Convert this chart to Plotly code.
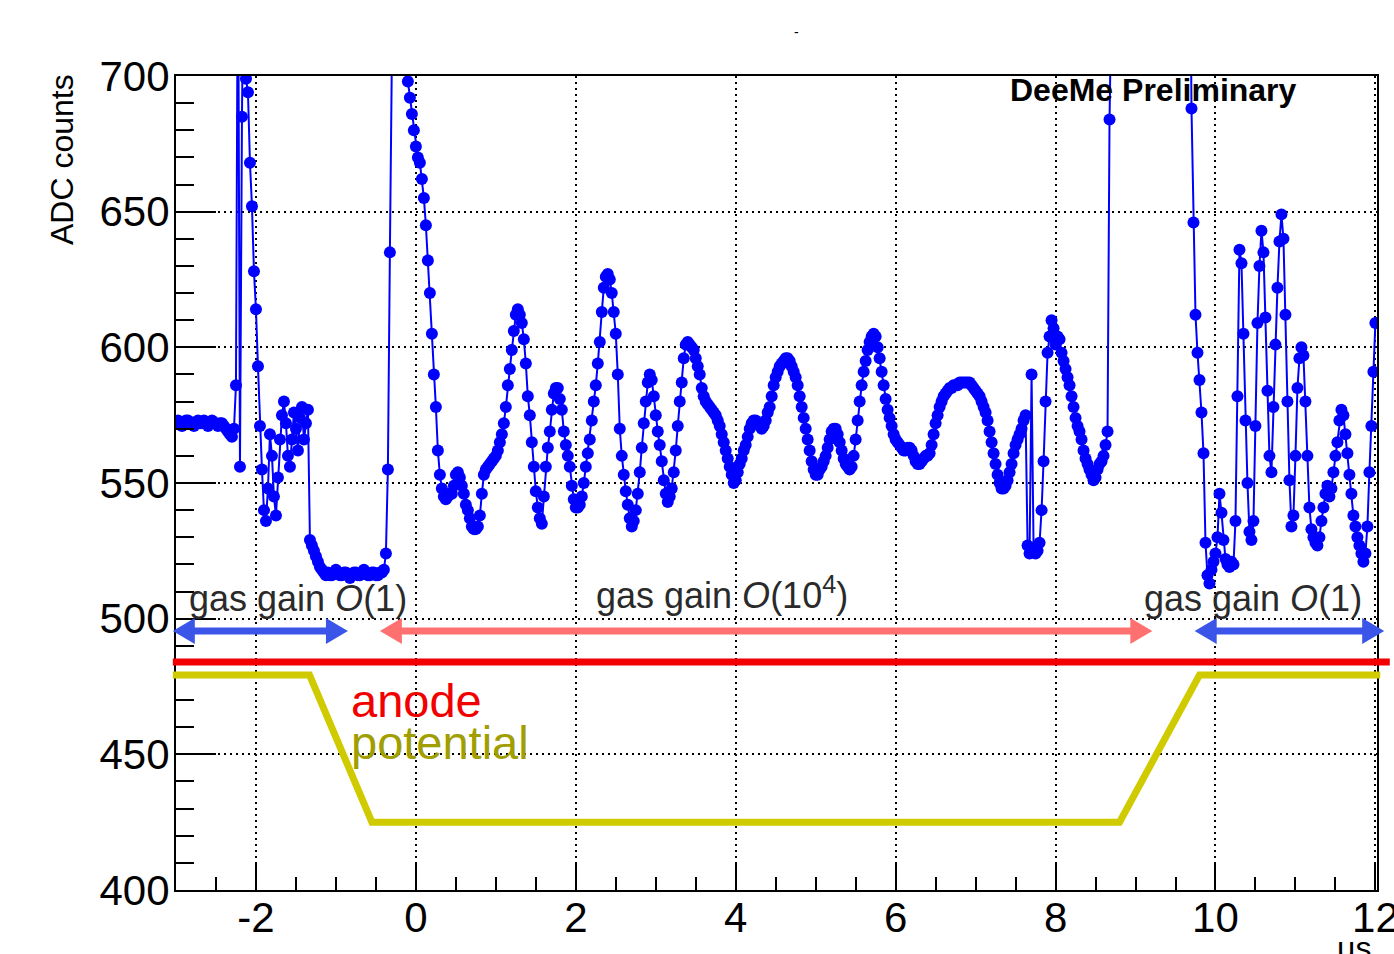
import numpy as np
import plotly.graph_objects as go

# ---------------- data ----------------
T_START = -3.0      # first sample time, us
T_STEP = 0.025      # sample spacing, us

adc_counts = [
    572, 573, 572, 571, 572, 573, 573, 572, 572, 571,
    572, 573, 572, 572, 573, 572, 571, 572, 573, 572,
    572, 571, 572, 572, 571, 570, 569, 568, 567, 570,
    586, 760, 556, 685, 760, 699, 694, 668, 652, 628,
    614, 593, 571, 555, 540, 536, 548, 568, 560, 545,
    538, 552, 566, 575, 580, 572, 560, 556, 566, 576,
    570, 562, 574, 578, 566, 572, 577, 529, 527, 525,
    523, 521, 519, 518, 517, 516, 517, 516, 516, 517,
    518, 517, 516, 516, 517, 517, 516, 515, 516, 517,
    517, 516, 516, 517, 518, 517, 516, 516, 517, 517,
    516, 516, 517, 517, 518, 524, 555, 635, 780, 780,
    780, 780, 780, 780, 780, 780, 698, 692, 686, 680,
    674, 670, 668, 662, 655, 645, 632, 620, 605, 590,
    578, 562, 553, 548, 545, 544, 545, 546, 546, 549,
    553, 554, 552, 549, 546, 542, 540, 537, 534, 533,
    533, 534, 538, 546, 553, 555, 556, 557, 558, 559,
    560, 562, 565, 568, 572, 578, 586, 592, 599, 606,
    612, 614, 612, 609, 603, 594, 582, 575, 565, 556,
    547, 541, 537, 535, 545, 556, 563, 569, 577, 583,
    585, 585, 581, 577, 569, 564, 560, 556, 549, 544,
    541, 541, 542, 545, 550, 556, 561, 566, 573, 580,
    586, 594, 602, 613, 622, 626, 627, 625, 620, 613,
    605, 590, 570, 560, 553, 547, 542, 537, 534, 536,
    540, 546, 554, 563, 572, 580, 587, 590, 588, 582,
    575, 569, 564, 558, 551, 546, 543, 545, 548, 554,
    562, 571, 580, 587, 596, 601, 602, 601, 600, 599,
    596, 593, 590, 585, 582, 580, 579, 578, 577, 576,
    575, 573, 571, 568, 565, 562, 559, 556, 553, 550,
    551, 554, 557, 559, 562, 564, 567, 570, 572, 573,
    573, 572, 571, 570, 571, 573, 576, 578, 582, 586,
    589, 591, 593, 594, 595, 596, 596, 595, 593, 591,
    589, 586, 582, 578, 574, 570, 566, 562, 558, 555,
    553, 553, 555, 556, 558, 560, 563, 566, 569, 570,
    570, 568, 565, 562, 559, 557, 556, 555, 556, 560,
    566, 573, 580, 586, 591, 595, 599, 602, 604, 605,
    604, 600, 596, 591, 586, 581, 577, 574, 571, 568,
    566, 565, 564, 563, 562, 562, 563, 563, 562, 560,
    558, 557, 557, 558, 559, 560, 560, 561, 564, 568,
    572, 575, 578, 580, 582, 583, 584, 585, 585, 586,
    586, 586, 587, 587, 587, 587, 587, 587, 586, 585,
    584, 583, 582, 580, 578, 576, 573, 569, 565, 561,
    557, 553, 550, 548, 548, 549, 551, 554, 557, 561,
    564, 566, 568, 570, 573, 575, 527, 524, 590, 526,
    524, 525, 528, 540, 558, 580, 598, 604, 610, 607,
    601, 604, 603, 598, 595, 592, 589, 586, 582, 578,
    574, 571, 569, 566, 562, 559, 557, 555, 553, 551,
    552, 555, 557, 558, 560, 564, 569, 684, 780, 780,
    780, 780, 780, 780, 780, 780, 780, 780, 780, 780,
    780, 780, 780, 780, 780, 780, 780, 780, 780, 780,
    780, 780, 780, 780, 780, 780, 780, 780, 780, 780,
    780, 780, 780, 780, 780, 780, 780, 780, 688, 646,
    612, 598, 588, 576, 561, 528, 516, 513, 518, 521,
    524, 530, 546, 539, 529, 522, 520, 519, 521, 520,
    536, 582, 636, 631, 605, 573, 550, 532, 529, 536,
    571, 609, 630, 643, 635, 611, 584, 560, 554, 578,
    601, 622, 639, 649, 640, 612, 580, 551, 534, 538,
    560, 585, 596, 600, 597, 580, 560, 541, 533, 530,
    528, 527, 530, 536, 541, 546, 549, 545, 548, 554,
    560, 565, 573, 577, 575, 568, 561, 553, 546, 538,
    534, 530, 527, 524, 521, 524, 534, 554, 571, 591,
    609,
]
assert len(adc_counts) == 601, len(adc_counts)
time_us = T_START + T_STEP * np.arange(len(adc_counts))

X_RANGE = [-3.0, 12.02]
Y_RANGE = [400, 700]
x_tick_vals = [-2, 0, 2, 4, 6, 8, 10, 12]
x_tick_text = ["-2", "0", "2", "4", "6", "8", "10", "12"]
y_tick_vals = [400, 450, 500, 550, 600, 650, 700]
y_tick_text = ["400", "450", "500", "550", "600", "650", "700"]

# hand-drawn overlay (slide annotations), in axis units
anode_t = [-3.04, 12.18]
anode_v = 484.0
potential_t = [-3.04, -1.33, -0.55, 8.80, 9.80, 12.06]
potential_v = [479.2, 479.2, 425.0, 425.0, 479.2, 479.2]
arrow_v = 495.5
arrows = [  # (left tip, right tip, colour)
    (-3.04, -0.85, "#3A55E8"),
    (-0.45, 9.21, "#FF7070"),
    (9.74, 12.11, "#3A55E8"),
]
gain_labels = [  # (centre time, centre value, text)
    (-1.48, 507.5, "gas gain <i>O</i>(1)"),
    (3.83, 509.5, "gas gain <i>O</i>(10<sup>4</sup>)"),
    (10.47, 507.5, "gas gain <i>O</i>(1)"),
]

# ---------------- layout geometry ----------------
W, H = 1394, 954
M_L, M_R, M_T, M_B = 176, 17, 76, 64
PW = W - M_L - M_R
PH = H - M_T - M_B


def px(t):
    return (t - X_RANGE[0]) / (X_RANGE[1] - X_RANGE[0])


def py(v):
    return (v - Y_RANGE[0]) / (Y_RANGE[1] - Y_RANGE[0])


FONT = "Liberation Sans, Arial, sans-serif"

fig = go.Figure()
fig.add_trace(go.Scatter(
    x=time_us, y=adc_counts, mode="lines+markers",
    line=dict(color="#0000FF", width=2),
    marker=dict(color="#0000FF", size=12, line=dict(width=0)),
    showlegend=False, cliponaxis=True, hoverinfo="skip",
))

shapes = []
# red anode line
shapes.append(dict(type="line", xref="paper", yref="paper",
                   x0=px(anode_t[0]), x1=px(anode_t[1]),
                   y0=py(anode_v), y1=py(anode_v),
                   line=dict(color="#F20000", width=7)))
# yellow potential line
path = "M " + " L ".join(f"{px(t)},{py(v)}" for t, v in zip(potential_t, potential_v))
shapes.append(dict(type="path", xref="paper", yref="paper", path=path,
                   line=dict(color="#D0CB00", width=7)))
# double arrows
HL = 22 / PW   # head length (paper)
HW = 13 / PH   # head half-height (paper)
ya = py(arrow_v)
for tl, tr, col in arrows:
    xl, xr = px(tl), px(tr)
    shapes.append(dict(type="line", xref="paper", yref="paper",
                       x0=xl + HL * 0.6, x1=xr - HL * 0.6, y0=ya, y1=ya,
                       line=dict(color=col, width=7)))
    shapes.append(dict(type="path", xref="paper", yref="paper",
                       path=f"M {xl},{ya} L {xl + HL},{ya + HW} L {xl + HL},{ya - HW} Z",
                       fillcolor=col, line=dict(color=col, width=0)))
    shapes.append(dict(type="path", xref="paper", yref="paper",
                       path=f"M {xr},{ya} L {xr - HL},{ya + HW} L {xr - HL},{ya - HW} Z",
                       fillcolor=col, line=dict(color=col, width=0)))

annotations = []
for t, v, txt in gain_labels:
    annotations.append(dict(x=t, y=v, xref="x", yref="y", text=txt,
                            showarrow=False, xanchor="center", yanchor="middle",
                            font=dict(family=FONT, size=36, color="#2a2a2a")))
annotations.append(dict(x=-0.84, y=470.0, xref="x", yref="y", text="anode",
                        showarrow=False, xanchor="left", yanchor="middle",
                        font=dict(family=FONT, size=47, color="#F20000")))
annotations.append(dict(x=-0.84, y=454.2, xref="x", yref="y", text="potential",
                        showarrow=False, xanchor="left", yanchor="middle",
                        font=dict(family=FONT, size=47, color="#A09E00")))
annotations.append(dict(x=9.23, y=694.8, xref="x", yref="y", text="<b>DeeMe Preliminary</b>",
                        showarrow=False, xanchor="center", yanchor="middle",
                        font=dict(family=FONT, size=32, color="black")))
annotations.append(dict(x=(62 - M_L) / PW, y=(890 - 160) / PH, xref="paper", yref="paper",
                        text="ADC counts", textangle=-90, showarrow=False,
                        xanchor="center", yanchor="middle",
                        font=dict(family=FONT, size=32, color="black")))
annotations.append(dict(x=(1373 - M_L) / PW, y=(890 - 928) / PH, xref="paper", yref="paper",
                        text="μs", showarrow=False, xanchor="right", yanchor="top",
                        font=dict(family=FONT, size=32, color="black")))
annotations.append(dict(x=(796 - M_L) / PW, y=(890 - 32) / PH, xref="paper", yref="paper",
                        text="-", showarrow=False, xanchor="center", yanchor="middle",
                        font=dict(family=FONT, size=14, color="black")))

axis_common = dict(
    showline=True, linewidth=2, linecolor="black", mirror=True,
    ticks="inside", tickwidth=2, tickcolor="black",
    showgrid=True, gridcolor="black", gridwidth=1.5, griddash="2px,4px",
    zeroline=False, automargin=False, ticklabeloverflow="allow",
    tickfont=dict(family=FONT, size=42, color="black"),
)

fig.update_layout(
    width=W, height=H,
    margin=dict(l=M_L, r=M_R, t=M_T, b=M_B, autoexpand=False),
    paper_bgcolor="white", plot_bgcolor="white",
    xaxis=dict(range=X_RANGE, tickmode="array", tickvals=x_tick_vals, ticktext=x_tick_text,
               ticklen=26, ticklabelstandoff=-10,
               minor=dict(ticks="inside", ticklen=13, tickwidth=2, tickcolor="black",
                          dtick=0.5, tick0=0, showgrid=False),
               **axis_common),
    yaxis=dict(range=Y_RANGE, tickmode="array", tickvals=y_tick_vals, ticktext=y_tick_text,
               ticklen=40, ticklabelstandoff=-4,
               minor=dict(ticks="inside", ticklen=18, tickwidth=2, tickcolor="black",
                          dtick=10, tick0=0, showgrid=False),
               **axis_common),
    shapes=shapes, annotations=annotations,
)

fig.write_html("out.html")
